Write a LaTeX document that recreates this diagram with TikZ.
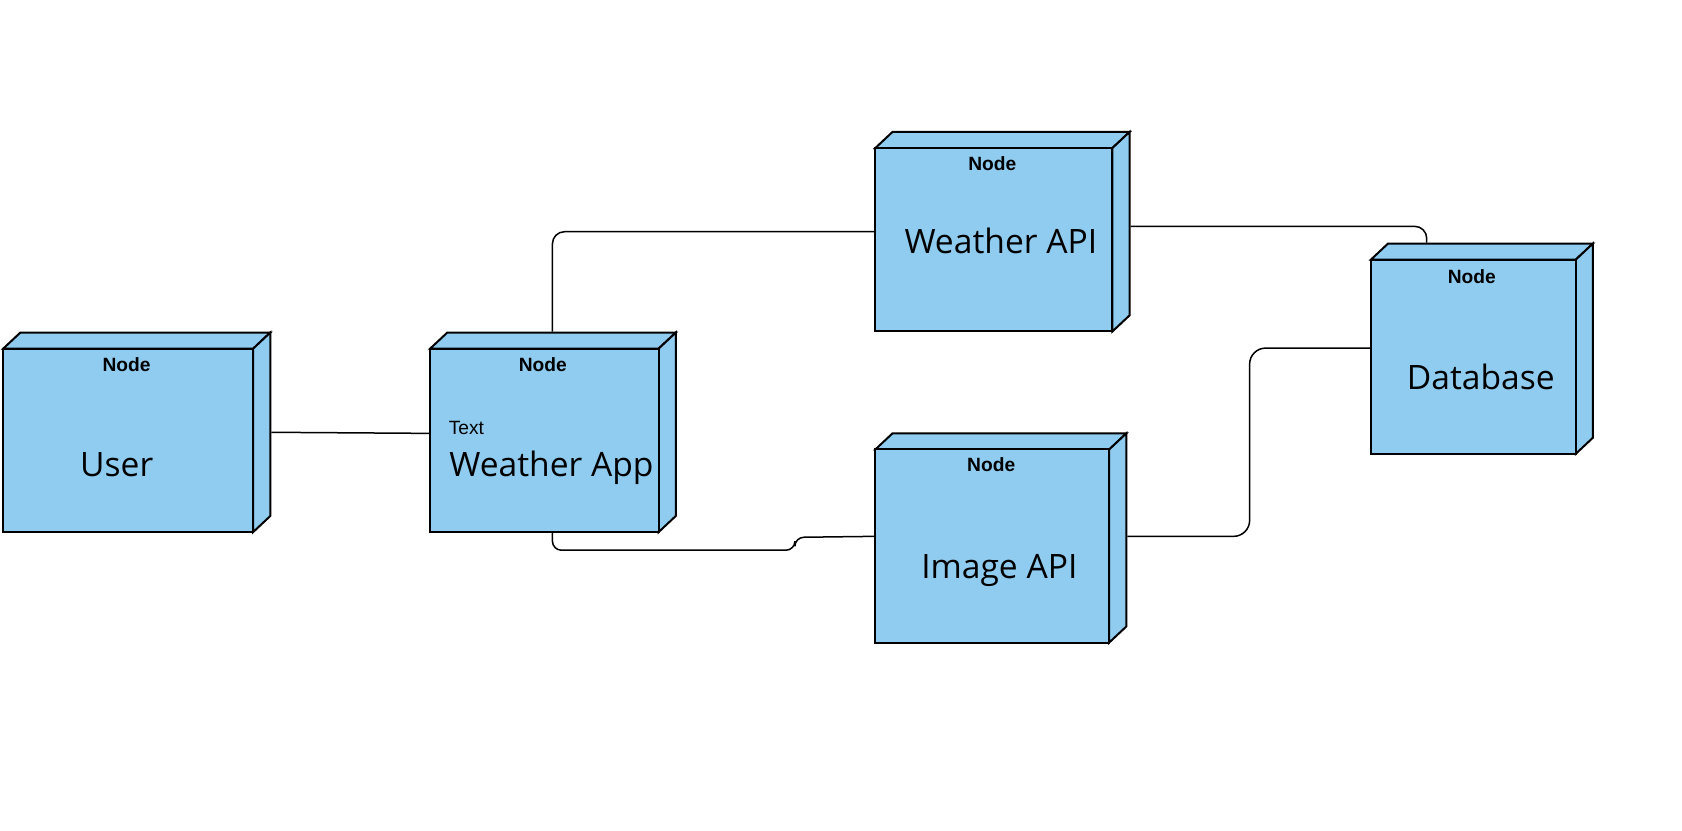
\documentclass[tikz,border=0pt]{standalone}
\usepackage{fontspec}
\setmainfont{Open Sans}
\newfontfamily\arialfont{Liberation Sans}
\usetikzlibrary{calc}
\definecolor{boxblue}{RGB}{143,204,240}
\tikzset{
  face/.style={fill=boxblue,draw=black,line width=1pt,line join=miter},
  frontbox/.style={face,rectangle,inner sep=0pt},
  conn/.style={draw=black,line width=0.75pt},
  stereo/.style={font=\arialfont\bfseries\fontsize{9.6}{11}\selectfont,inner sep=0pt},
  smalltext/.style={font=\arialfont\fontsize{9.6}{11}\selectfont,inner sep=0pt,anchor=base west},
  maintext/.style={font=\fontsize{16.8}{20}\selectfont,inner sep=0pt,anchor=base}
}
% #1 name, #2 x1, #3 y1, #4 x2, #5 y2 (front face)
\newcommand\depbox[5]{%
  \path[face] (#2,#3) -- (#2+16,#3-15) -- (#4+16,#3-15) -- (#4,#3) -- cycle;
  \path[face] (#4,#3) -- (#4+16,#3-15) -- (#4+16,#5-15) -- (#4,#5) -- cycle;
  \node[frontbox,minimum width={(#4-#2)*0.53636pt},minimum height={(#5-#3)*0.53636pt}]
    (#1) at ({(#2+#4)/2},{(#3+#5)/2}) {};
}
\begin{document}
\begin{tikzpicture}[x=0.53636pt,y=-0.53636pt]
\useasboundingbox (0,0) rectangle (1568,774);
\fill[white] (0,0) rectangle (1568,774);

\depbox{user}{3}{325}{236}{496}
\depbox{wapp}{401}{325}{614}{496}
\depbox{wapi}{816}{138}{1037}{309}
\depbox{iapi}{816}{419}{1034}{599}
\depbox{db}{1278}{242}{1469}{423}

\node[stereo] (userst) at (118,339.5) {Node};
\node[stereo] (wappst) at (506,339.5) {Node};
\node[stereo] (wapist) at (925,152.5) {Node};
\node[stereo] (iapist) at (924,433.5) {Node};
\node[stereo] (dbst) at (1372,257.5) {Node};

\node[maintext] (usert) at (108.8,444.5) {User};
\node[smalltext] (wappsmall) at (418,405) {Text};
\node[maintext,anchor=base west] (wappt) at (418.5,444.2) {Weather App};
\node[maintext] (wapit) at (933,236.3) {Weather API};
\node[maintext] (iapit) at (931.6,539.3) {Image API};
\node[maintext] (dbt) at (1380.4,362.8) {Database};

\draw[conn] ($(user.east)+(16,-7.5)$) -- ($(wapp.west)+(0,-6.5)$);
\draw[conn,rounded corners=6] ($(wapp.north)+(7.5,-15)$) |- ($(wapi.west)+(0,-7.5)$);
\draw[conn,rounded corners=4.5] ($(wapp.south)+(7.5,0)$) -- ++(0,16) -- ++(226,0) -- ++(0,-12) -- ($(iapi.west)+(0,-9)$);
\draw[conn,rounded corners=6] ($(wapi.east)+(16,-12.5)$) -| ($(db.north)+(-43.5,-15)$);
\draw[conn,rounded corners=8] ($(iapi.east)+(16,-9)$) -- ++(114,0) |- ($(db.west)+(0,-8)$);
\end{tikzpicture}
\end{document}
